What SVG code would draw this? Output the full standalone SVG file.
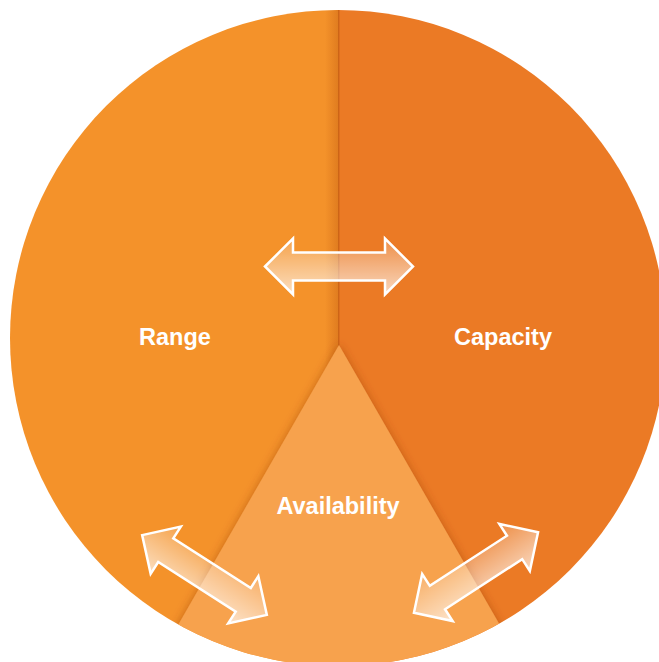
<svg xmlns="http://www.w3.org/2000/svg" width="659" height="662" viewBox="0 0 659 662">
  <defs>
    <clipPath id="circ">
      <circle cx="338" cy="338" r="328"/>
    </clipPath>
    <linearGradient id="divShade" x1="0" y1="0" x2="1" y2="0">
      <stop offset="0" stop-color="#b8500a" stop-opacity="0"/>
      <stop offset="1" stop-color="#b8500a" stop-opacity="0.35"/>
    </linearGradient>
    <linearGradient id="arrowFill" x1="0" y1="0" x2="0" y2="1">
      <stop offset="0" stop-color="#ffffff" stop-opacity="0.15"/>
      <stop offset="1" stop-color="#ffffff" stop-opacity="0.7"/>
    </linearGradient>
    <filter id="triShadow" x="-20%" y="-20%" width="140%" height="140%">
      <feDropShadow dx="0" dy="-1" stdDeviation="4" flood-color="#9a3c00" flood-opacity="0.45"/>
    </filter>
    <path id="arrow" d="M-74,0 L-46,-28 L-46,-14 L46,-14 L46,-28 L74,0 L46,28 L46,14 L-46,14 L-46,28 Z"/>
    <style>
      .arrow { fill: url(#arrowFill); stroke: #ffffff; stroke-width: 2.5; stroke-linejoin: miter; }
      .label { font-family: "Liberation Sans", Arial, sans-serif; font-weight: bold; font-size: 23.5px; fill: #ffffff; text-anchor: middle; }
    </style>
  </defs>

  <g clip-path="url(#circ)">
    <g id="range">
      <rect x="0" y="0" width="339" height="662" fill="#F4922A"/>
      <rect x="325" y="0" width="14" height="662" fill="url(#divShade)"/>
      <text class="label" x="175" y="345">Range</text>
    </g>
    <g id="capacity">
      <rect x="339" y="0" width="330" height="662" fill="#EB7A25"/>
      <rect x="338" y="0" width="1.5" height="662" fill="#c85f14" opacity="0.8"/>
      <text class="label" x="503" y="345">Capacity</text>
    </g>
    <g id="availability">
      <polygon points="339,345 135,700 543,700" fill="#F7A24D" filter="url(#triShadow)"/>
      <text class="label" x="338" y="514">Availability</text>
    </g>
  </g>

  <g id="connectors">
    <use href="#arrow" class="arrow" transform="translate(339,266.5)"/>
    <use href="#arrow" class="arrow" transform="translate(204.5,575) rotate(32.6)"/>
    <use href="#arrow" class="arrow" transform="translate(476,572.5) rotate(-33)"/>
  </g>
</svg>
